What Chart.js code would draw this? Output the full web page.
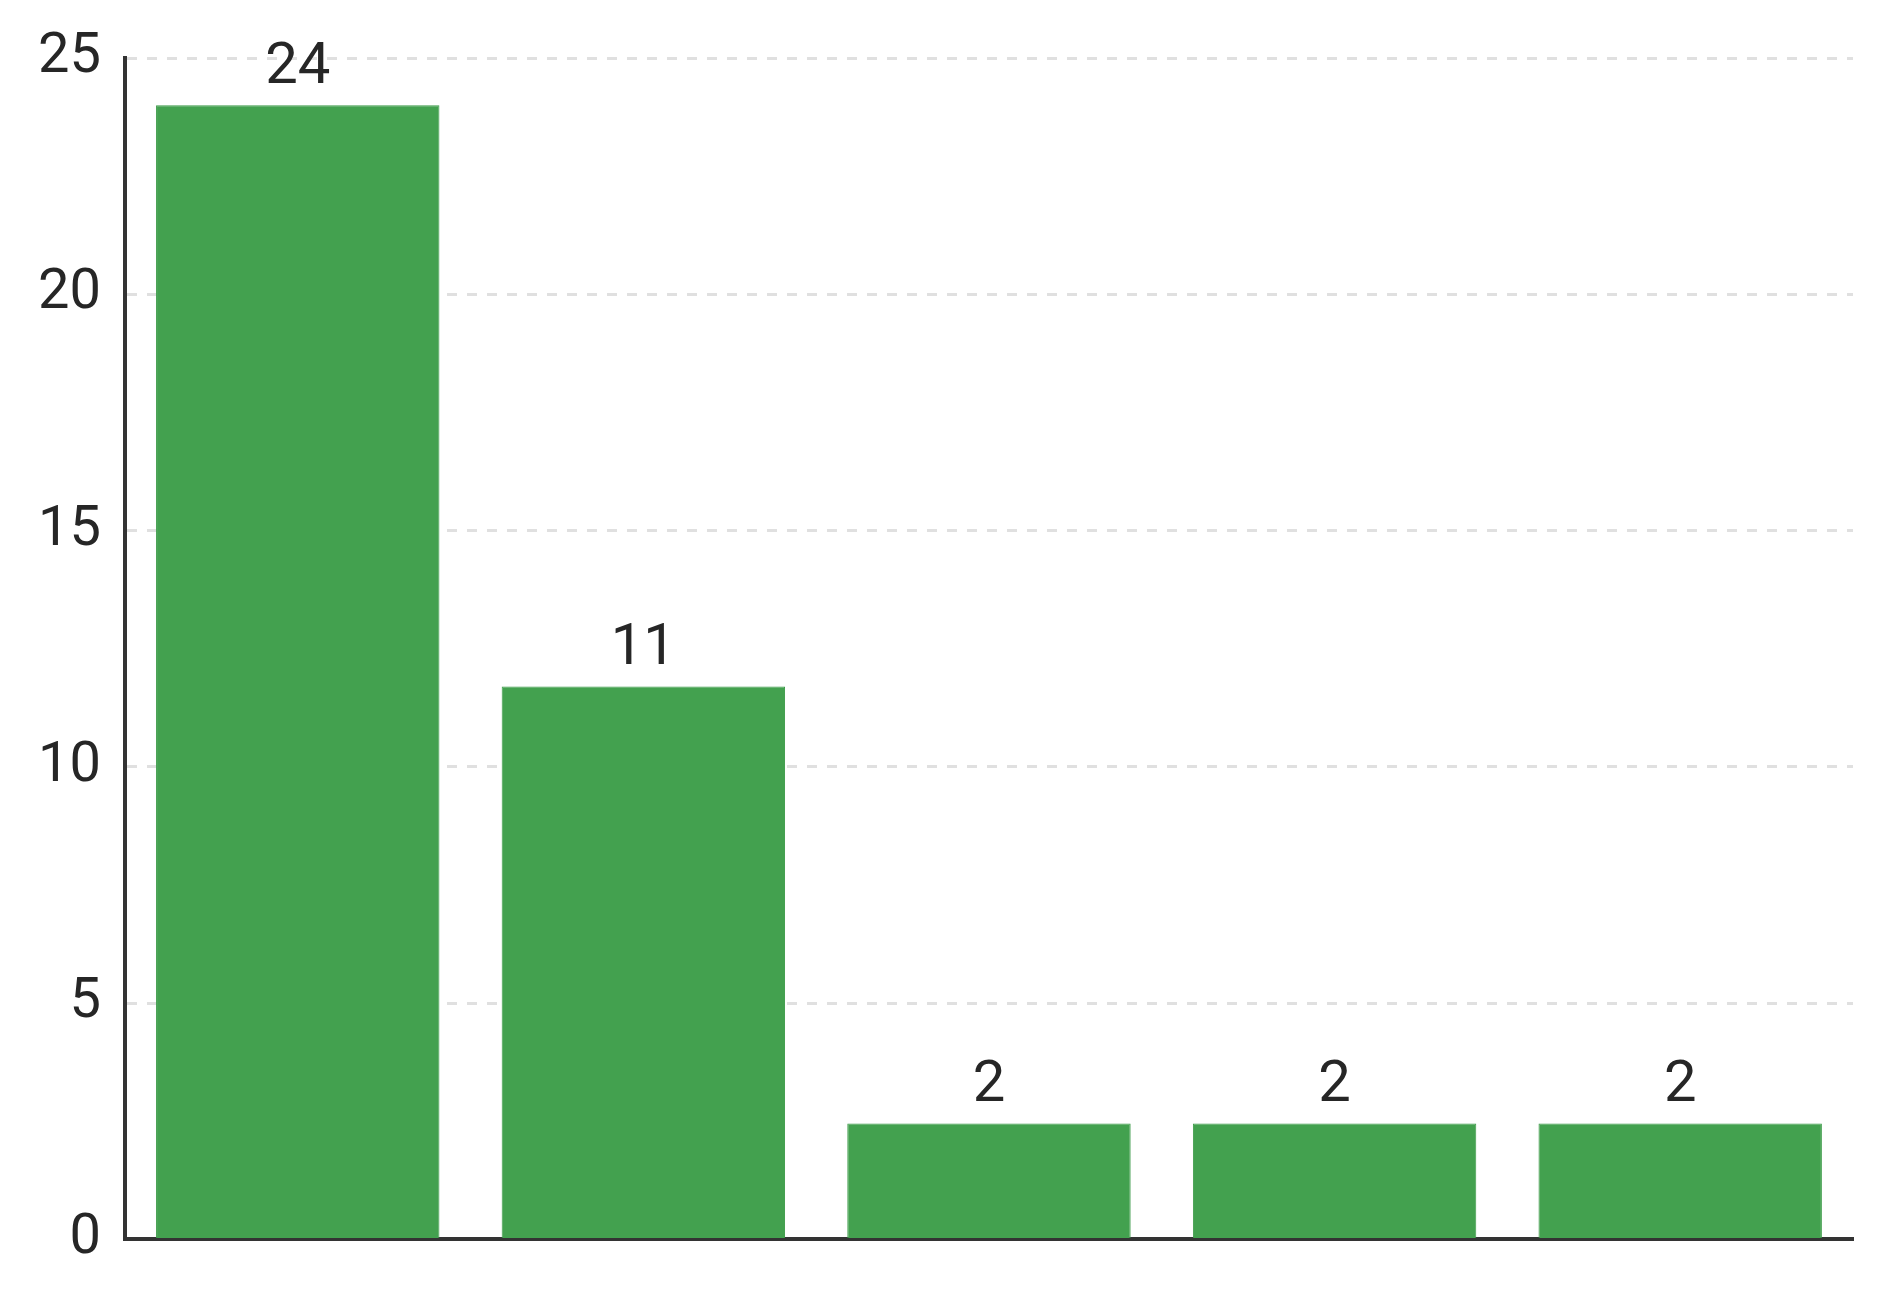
<!DOCTYPE html>
<html>
<head>
<meta charset="utf-8">
<script src="https://cdn.jsdelivr.net/npm/chart.js@4"></script>
<style>
  html, body { margin: 0; padding: 0; background: #fff; }
  #wrap { width: 1889px; height: 1297px; }
</style>
</head>
<body>
<div id="wrap"><canvas id="myChart" width="1889" height="1297"></canvas></div>
<script>
var categories = ['A', 'B', 'C', 'D', 'E'];
var barValues = [24, 11.7, 2.45, 2.45, 2.45];
var barLabels = ['24', '11', '2', '2', '2'];
var yTicks = [0, 5, 10, 15, 20, 25];

// draws the number above each bar
var valueLabels = {
    id: 'valueLabels',
    afterDatasetsDraw: function (chart) {
        var ctx = chart.ctx;
        var meta = chart.getDatasetMeta(0);
        ctx.save();
        ctx.fillStyle = '#262626';
        ctx.font = '58px Roboto';
        ctx.textAlign = 'center';
        ctx.textBaseline = 'bottom';
        meta.data.forEach(function (bar, i) {
            ctx.fillText(barLabels[i], bar.x, bar.y - 8);
        });
        ctx.restore();
    }
};

var ctx = document.getElementById('myChart').getContext('2d');
var chart = new Chart(ctx, {
    type: 'bar',
    data: {
        labels: categories,
        datasets: [{
            data: barValues,
            backgroundColor: '#43a14f',
            borderColor: '#3b9a47',
            borderWidth: 1,
            barPercentage: 0.82,
            categoryPercentage: 1
        }]
    },
    options: {
        responsive: false,
        animation: false,
        layout: { padding: { top: 58, right: 36, bottom: 22, left: 14 } },
        plugins: { legend: { display: false }, tooltip: { enabled: false } },
        scales: {
            x: {
                grid: { display: false, drawTicks: false },
                border: { color: '#333', width: 4 },
                ticks: { display: false }
            },
            y: {
                min: 0,
                max: 25,
                afterBuildTicks: function (axis) {
                    axis.ticks = yTicks.map(function (v) { return { value: v }; });
                },
                grid: { color: '#e0e0e0', lineWidth: 3, drawTicks: false },
                border: { color: '#333', width: 4, dash: [10, 10] },
                ticks: {
                    color: '#262626',
                    padding: 24,
                    font: { family: 'Roboto', size: 56 }
                }
            }
        }
    },
    plugins: [valueLabels]
});
</script>
</body>
</html>
